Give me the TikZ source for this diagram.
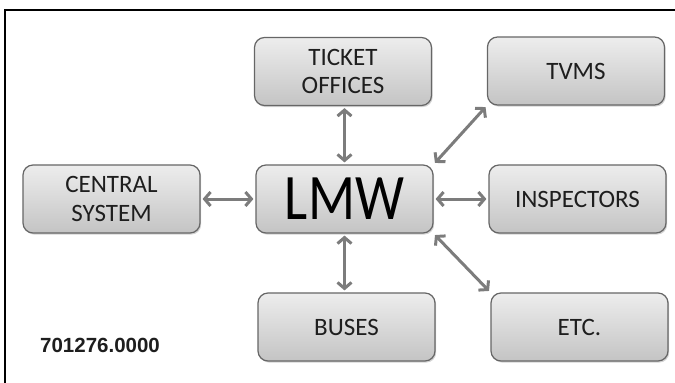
\documentclass[tikz,border=0pt]{standalone}
\usepackage{fontspec}
\setmainfont{Carlito}
\newfontfamily\numfont{Liberation Sans}
\usetikzlibrary{arrows.meta,shadows}
\definecolor{boxedge}{HTML}{666666}
\definecolor{boxtop}{HTML}{EDEDED}
\definecolor{boxbot}{HTML}{C4C4C4}
\definecolor{arrowgray}{HTML}{7C7C7C}
\definecolor{textdark}{HTML}{1E1E1E}
\tikzset{
  unitbox/.style={draw=boxedge, line width=1.2pt, rounded corners=10pt,
    top color=boxtop, bottom color=boxbot, text=textdark,
    minimum width=177pt, minimum height=68pt, inner sep=0pt,
    align=center, font=\fontsize{25}{28.5}\selectfont,
    drop shadow={opacity=0.35, shadow xshift=1.2pt, shadow yshift=-1.6pt}},
  link/.style={draw=arrowgray, line width=3pt,
    {Straight Barb[length=6pt,width=14pt]}-{Straight Barb[length=6pt,width=14pt]},
    shorten <=2pt, shorten >=2pt},
  frameline/.style={draw=black, line width=2.6pt}
}
\begin{document}
\begin{tikzpicture}[x=1pt,y=-1pt]
\useasboundingbox (0,0) rectangle (675,383);
\draw[frameline] (5,383) -- (5,10) -- (675,10);
\node[unitbox] (ticket) at (343,71.5) {TICKET\\OFFICES};
\node[unitbox] (tvms) at (576,71) {TVMS};
\node[unitbox] (central) at (111.5,199) {CENTRAL\\SYSTEM};
\node[unitbox, text=black] (lmw) at (344.5,199) {\fontsize{55}{60}\selectfont\scalebox{1}[1.18]{LMW}};
\node[unitbox] (insp) at (577.5,199) {INSPECTORS};
\node[unitbox] (buses) at (346.5,327) {BUSES};
\node[unitbox] (etc) at (579.5,327) {ETC.};
\node[anchor=base west, inner sep=0pt, text=textdark, font=\numfont\bfseries\fontsize{20.5}{23}\selectfont] (code) at (40,352) {701276.0000};
\draw[link] (lmw.north |- ticket.south) -- (lmw.north);
\draw[link] (lmw.north east) -- (tvms.south west);
\draw[link] (central.east) -- (lmw.west);
\draw[link] (lmw.east) -- (insp.west);
\draw[link] (lmw.south) -- (lmw.south |- buses.north);
\draw[link] (lmw.south east) -- (etc.north west);
\end{tikzpicture}
\end{document}
